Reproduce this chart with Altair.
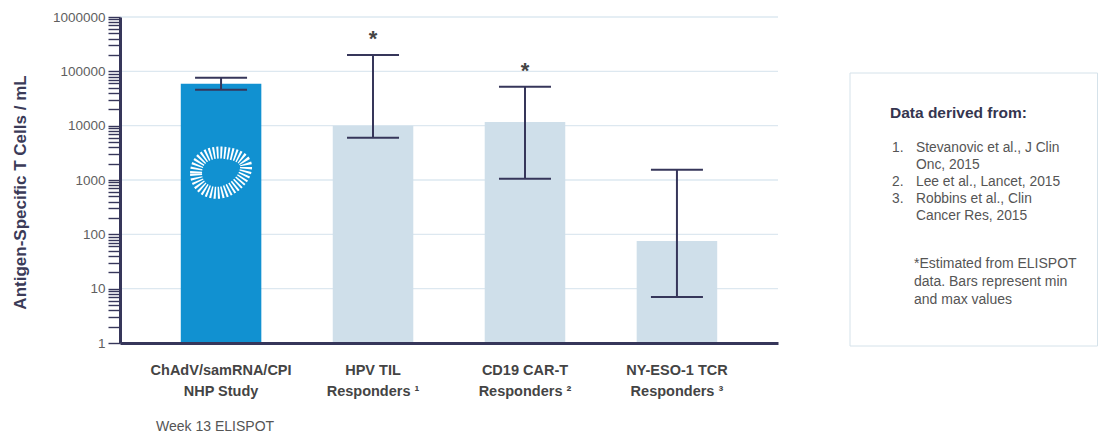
import altair as alt
import pandas as pd

# ---------------- data ----------------
categories = ["ChAdV/samRNA/CPI|NHP Study", "HPV TIL|Responders ¹",
              "CD19 CAR-T|Responders ²", "NY-ESO-1 TCR|Responders ³"]
bar_values = [59000, 10000, 11700, 75]
err_min = [46000, 6000, 1050, 7]
err_max = [76000, 200000, 52000, 1550]
asterisks = ["", "*", "*", ""]
bar_colors = ["#1191d1", "#cfdfea", "#cfdfea", "#cfdfea"]

y_tick_values = [m * 10 ** k for k in range(6) for m in range(1, 10)] + [10 ** 6]
y_major = [1, 10, 100, 1000, 10000, 100000, 1000000]
grid_values = [10, 100, 1000, 10000, 100000, 1000000]

icon_category = [categories[0]]
icon_level = [1400]
sub_label = ["Week 13 ELISPOT"]

box_title = "Data derived from:"
ref_numbers = ["1.", "2.", "3."]
ref_texts = [["Stevanovic et al., J Clin", "Onc, 2015"],
             ["Lee et al., Lancet, 2015"],
             ["Robbins et al., Clin", "Cancer Res, 2015"]]
note_lines = ["*Estimated from ELISPOT", "data. Bars represent min", "and max values"]

# ---------------- layout ----------------
W, H = 658, 326
FONT = "Liberation Sans"
NAVY = "#36365a"
ICON_PATH = ("M -1 0.05 C -1 -0.55 -0.5 -0.8 0 -0.78 C 0.5 -0.75 1 -0.6 1 -0.2 "
             "C 1 0.25 0.5 0.72 0 0.82 C -0.5 0.9 -1 0.6 -1 0.05 Z")

df = pd.DataFrame({
    "cat": categories,
    "val": bar_values,
    "lo": err_min,
    "hi": err_max,
    "ast": asterisks,
    "color": bar_colors,
})
grid_df = pd.DataFrame({"g": grid_values})
icon_df = pd.DataFrame({"cat": icon_category, "lvl": icon_level})
sub_df = pd.DataFrame({"cat": icon_category, "t": sub_label})
one = pd.DataFrame({"a": [0]})

yscale = alt.Scale(type="log", domain=[1, 1000000], nice=False)
xscale = alt.Scale(domain=categories, paddingInner=0.47, paddingOuter=0.4)

x_enc = alt.X(
    "cat:N", scale=xscale, sort=categories, title=None,
    axis=alt.Axis(
        labelExpr="split(datum.label, '|')", labelAngle=0,
        labelFontSize=14.5, labelFontWeight="bold", labelColor="#444444",
        labelFont=FONT, labelPadding=20, labelLineHeight=21,
        ticks=False, domainColor=NAVY, domainWidth=3, zindex=1,
        labelBaseline="top",
    ),
)

y_enc = alt.Y(
    "val:Q", scale=yscale,
    axis=alt.Axis(
        values=y_tick_values,
        labelExpr="indexof(" + str(y_major) + ", datum.value) >= 0 ? format(datum.value, 'd') : ''",
        grid=False, tickColor=NAVY, tickWidth=1.4, tickSize=12,
        domainColor=NAVY, domainWidth=3, zindex=1,
        labelFontSize=13.5, labelColor="#5f5f5f", labelFont=FONT, labelPadding=3,
        title="Antigen-Specific T Cells / mL", titleFontSize=17,
        titleFontWeight="bold", titleColor="#3b3b58", titleFont=FONT,
        titleX=-100, titleY=175, titleAngle=270, titleAlign="center",
        titleBaseline="middle",
    ),
)

grid = alt.Chart(grid_df).mark_rule(color="#dde8f0", strokeWidth=1.3).encode(
    y=alt.Y("g:Q", scale=yscale)
)

bars = alt.Chart(df).mark_bar().encode(
    x=x_enc,
    y=y_enc,
    y2=alt.datum(1),
    color=alt.Color("color:N", scale=None),
)

icon = alt.Chart(icon_df).mark_point(
    shape=ICON_PATH, size=2500, filled=False, stroke="white",
    strokeWidth=12, strokeDash=[1.8, 1.8], opacity=1,
).encode(x=alt.X("cat:N", scale=xscale), y=alt.Y("lvl:Q", scale=yscale))

stem = alt.Chart(df).mark_rule(color=NAVY, strokeWidth=2).encode(
    x=alt.X("cat:N", scale=xscale),
    y=alt.Y("lo:Q", scale=yscale),
    y2="hi:Q",
)
cap_lo = alt.Chart(df).mark_tick(color=NAVY, size=52, thickness=2, opacity=1).encode(
    x=alt.X("cat:N", scale=xscale), y=alt.Y("lo:Q", scale=yscale)
)
cap_hi = alt.Chart(df).mark_tick(color=NAVY, size=52, thickness=2, opacity=1).encode(
    x=alt.X("cat:N", scale=xscale), y=alt.Y("hi:Q", scale=yscale)
)
stars = alt.Chart(df).mark_text(
    fontSize=22, fontWeight="bold", color="#444444", dy=-16, baseline="middle", font=FONT
).encode(x=alt.X("cat:N", scale=xscale), y=alt.Y("hi:Q", scale=yscale), text="ast:N")

sub = alt.Chart(sub_df).mark_text(
    fontSize=14, color="#555555", baseline="middle", font=FONT, dx=-6
).encode(x=alt.X("cat:N", scale=xscale), y=alt.value(H + 84), text="t:N")

# ---------------- reference box ----------------
BX = 730
TXT = dict(align="left", baseline="middle", color="#555555", font=FONT)
box = alt.Chart(one).mark_rect(fill="white", stroke="#d5e2ea", strokeWidth=1).encode(
    x=alt.value(BX), x2=alt.value(977.5), y=alt.value(56), y2=alt.value(329)
)
box_layers = [box]
box_layers.append(
    alt.Chart(one).mark_text(align="left", baseline="middle", fontSize=15.5,
                             fontWeight="bold", color="#35354f", font=FONT).encode(
        x=alt.value(BX + 40), y=alt.value(96), text=alt.value(box_title))
)
ly = 131
for num, lines in zip(ref_numbers, ref_texts):
    box_layers.append(
        alt.Chart(one).mark_text(fontSize=13.8, **TXT).encode(
            x=alt.value(BX + 42), y=alt.value(ly), text=alt.value(num))
    )
    for ln in lines:
        box_layers.append(
            alt.Chart(one).mark_text(fontSize=13.8, **TXT).encode(
                x=alt.value(BX + 66), y=alt.value(ly), text=alt.value(ln))
        )
        ly += 17
ny = 247
for ln in note_lines:
    box_layers.append(
        alt.Chart(one).mark_text(fontSize=14, **TXT).encode(
            x=alt.value(BX + 64), y=alt.value(ny), text=alt.value(ln))
    )
    ny += 18

chart = alt.layer(
    grid, bars, icon, stem, cap_lo, cap_hi, stars, sub, *box_layers
).properties(
    width=W, height=H,
    autosize=alt.AutoSizeParams(type="none"),
    padding={"left": 112, "top": 9, "right": 320, "bottom": 90},
    background="white",
).configure(
    font=FONT,
    view=alt.ViewConfig(stroke="#ffffff", strokeWidth=0, strokeOpacity=0, fill="#ffffff"),
)

chart.save("out.html", embed_options={"renderer": "svg", "actions": False})
